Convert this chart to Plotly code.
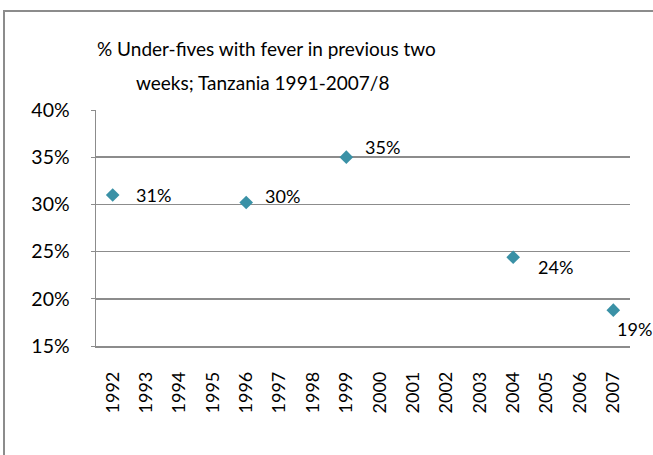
import plotly.graph_objects as go

years = [str(y) for y in range(1992, 2008)]
point_years = ["1992", "1996", "1999", "2004", "2007"]
fever_pct = [0.310, 0.302, 0.350, 0.244, 0.188]
y_ticks = [0.15, 0.20, 0.25, 0.30, 0.35, 0.40]
title_lines = ["% Under-fives with fever in previous two", "weeks; Tanzania 1991-2007/8"]

# label offsets in pixels (dx, dy) relative to each point
label_offsets = [(21, 0), (17, 7), (17, 10), (23, -10), (2, -19)]

FONT = "Lato"
GRAY = "#8c8c8c"
MARK = "#3a91a6"

W, H = 653, 455
ml, mr, mt, mb = 96, 23, 110, 109
pw, ph = W - ml - mr, H - mt - mb

fig = go.Figure()
fig.add_trace(go.Scatter(
    x=point_years, y=fever_pct, mode="markers",
    marker=dict(symbol="diamond", size=10.5, color=MARK, line=dict(width=0)),
    hoverinfo="skip", showlegend=False,
))

for (yr, v), (dx, dy) in zip(zip(point_years, fever_pct), label_offsets):
    fig.add_annotation(
        x=years.index(yr), y=v, xref="x", yref="y", text=f"{round(v*100)}%",
        showarrow=False, xanchor="left", yanchor="middle",
        xshift=dx, yshift=dy, font=dict(family=FONT, size=18, color="#000"),
    )

def px_x(p):
    return (p - ml) / pw

def px_y(p):
    return (H - mb - p) / ph

# outer chart frame (top and left edges visible)
fig.add_shape(type="line", xref="paper", yref="paper", layer="above",
              x0=px_x(3), x1=px_x(653), y0=px_y(11), y1=px_y(11),
              line=dict(color=GRAY, width=2))
fig.add_shape(type="line", xref="paper", yref="paper", layer="above",
              x0=px_x(4), x1=px_x(4), y0=px_y(10), y1=px_y(455),
              line=dict(color=GRAY, width=2))

for line, cy, cx in zip(title_lines, [48, 82], [266, 262]):
    fig.add_annotation(
        xref="paper", yref="paper", x=px_x(cx), y=px_y(cy), text=line,
        showarrow=False, xanchor="center", yanchor="middle",
        font=dict(family=FONT, size=19, color="#000"),
    )

fig.update_layout(
    width=W, height=H,
    margin=dict(l=ml, r=mr, t=mt, b=mb, autoexpand=False),
    paper_bgcolor="white", plot_bgcolor="white",
    font=dict(family=FONT, color="#000"),
    showlegend=False,
    xaxis=dict(
        type="category", categoryorder="array", categoryarray=years,
        tickvals=years, ticktext=years, range=[-0.5, len(years) - 0.5],
        tickangle=-90, tickfont=dict(family=FONT, size=18, color="#000"),
        showgrid=False, showline=True, linecolor=GRAY, linewidth=1.5,
        ticks="", ticklabelstandoff=17, zeroline=False,
    ),
    yaxis=dict(
        range=[0.15, 0.40], tickvals=y_ticks, tickformat=".0%",
        tickfont=dict(family=FONT, size=19.5, color="#000"),
        showgrid=True, gridcolor=GRAY, gridwidth=1.5,
        showline=True, linecolor=GRAY, linewidth=1.5,
        ticks="outside", ticklen=4, tickcolor=GRAY, ticklabelstandoff=17,
        zeroline=False,
    ),
)

fig.write_html(
    "out.html",
    config={"displayModeBar": False, "staticPlot": True},
    post_script="document.body.style.margin='0';document.body.style.overflow='hidden';",
)
